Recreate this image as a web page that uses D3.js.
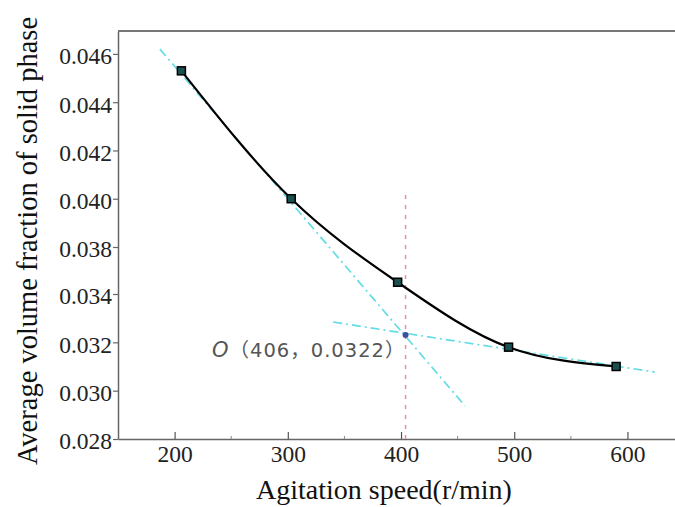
<!DOCTYPE html>
<html>
<head>
<meta charset="utf-8">
<script src="https://cdn.jsdelivr.net/npm/d3@7"></script>
<style>
  html, body { margin: 0; padding: 0; background: #fff; }
  svg { display: block; }
</style>
</head>
<body>
<div id="chart"></div>
<script>
// measured points
var SPEED = [206, 303, 397, 495, 590];
var FRACTION = [0.0453, 0.0400, 0.0350, 0.0318, 0.0310];

// the two tangent lines (end points)
var TANGENT_A_X = [187, 456.5];
var TANGENT_A_Y = [0.0462, 0.02937];
var TANGENT_B_X = [340, 624];
var TANGENT_B_Y = [0.03284, 0.03077];

// intersection point and vertical marker line
var CROSS_X = 404;
var CROSS_Y = 0.0323;
var VLINE_TOP = 0.04015;
var CROSS_LABEL = ["O", "（406，0.0322）"];

var X_TICKS = [200, 300, 400, 500, 600];
var X_MINOR = [250, 350, 450, 550];
var Y_TICKS = [0.028, 0.030, 0.032, 0.034, 0.038, 0.040, 0.042, 0.044, 0.046];

function draw() {
    var width = 675, height = 507;
    var pLeft = 118, pRight = 675, pTop = 31, pBottom = 439;

    var svg = d3.select("#chart").append("svg")
        .attr("width", width)
        .attr("height", height);

    var x = d3.scaleLinear().domain([150, 642]).range([pLeft, pRight]);
    // the original y axis skips 0.036, so the scale is piecewise
    var y = d3.scaleLinear()
        .domain([0.028, 0.034, 0.038, 0.04695])
        .range([pBottom, 294, 247, pTop]);

    // frame: top line
    svg.append("line").attr("x1", pLeft).attr("x2", pRight).attr("y1", pTop).attr("y2", pTop)
        .style("stroke", "#777").style("stroke-width", 2);

    // y axis
    var yAxis = svg.append("g")
        .attr("transform", "translate(" + pLeft + ",0)")
        .call(d3.axisLeft(y).tickValues(Y_TICKS).tickFormat(d3.format(".3f")).tickSize(5).tickPadding(1).tickSizeOuter(0));
    yAxis.select(".domain").style("stroke", "#666").style("stroke-width", 1.5);
    yAxis.selectAll(".tick line").style("stroke", "#666").style("stroke-width", 1.2);
    yAxis.selectAll("text")
        .style("font-family", "Liberation Serif, Times New Roman, serif")
        .style("font-size", "23.5px")
        .style("fill", "#222")
        .attr("dy", "0.42em");

    // x axis, ticks pointing inward
    var xAxis = svg.append("g")
        .attr("transform", "translate(0," + pBottom + ")")
        .call(d3.axisBottom(x).tickValues(X_TICKS).tickSize(-7).tickPadding(0).tickSizeOuter(0));
    xAxis.select(".domain").style("stroke", "#666").style("stroke-width", 1.5);
    xAxis.selectAll(".tick line").style("stroke", "#555").style("stroke-width", 1.2);
    xAxis.selectAll("text")
        .attr("y", 23)
        .attr("dy", 0)
        .style("font-family", "Liberation Serif, Times New Roman, serif")
        .style("font-size", "23.5px")
        .style("fill", "#222");

    svg.append("g").selectAll("line")
        .data(X_MINOR)
        .enter()
        .append("line")
        .attr("x1", function(d) { return x(d); })
        .attr("x2", function(d) { return x(d); })
        .attr("y1", pBottom)
        .attr("y2", pBottom - 3)
        .style("stroke", "#888")
        .style("stroke-width", 1);

    // vertical red line
    svg.append("line")
        .attr("x1", x(CROSS_X)).attr("x2", x(CROSS_X))
        .attr("y1", y(VLINE_TOP)).attr("y2", y(0.028))
        .style("stroke", "#ea8f98")
        .style("stroke-width", 1.5)
        .style("stroke-dasharray", "4,6");

    // tangent lines
    var line = d3.line()
        .x(function(d) { return x(d[0]); })
        .y(function(d) { return y(d[1]); });

    [[TANGENT_A_X, TANGENT_A_Y], [TANGENT_B_X, TANGENT_B_Y]].forEach(function(t) {
        svg.append("path")
            .datum(d3.zip(t[0], t[1]))
            .attr("d", line)
            .style("fill", "none")
            .style("stroke", "#62dde4")
            .style("stroke-width", 1.7)
            .style("stroke-dasharray", "9,4,2,4");
    });

    // fitted curve
    var points = d3.zip(SPEED, FRACTION);
    var curve = d3.line()
        .x(function(d) { return x(d[0]); })
        .y(function(d) { return y(d[1]); })
        .curve(d3.curveMonotoneX);
    svg.append("path")
        .datum(points)
        .attr("d", curve)
        .style("fill", "none")
        .style("stroke", "#000")
        .style("stroke-width", 2.2);

    // markers
    svg.append("g").selectAll("rect")
        .data(points)
        .enter()
        .append("rect")
        .attr("x", function(d) { return x(d[0]) - 4; })
        .attr("y", function(d) { return y(d[1]) - 4; })
        .attr("width", 8)
        .attr("height", 8)
        .style("fill", "#1b5050")
        .style("stroke", "#000")
        .style("stroke-width", 1.5);

    // intersection
    svg.append("circle")
        .attr("cx", x(CROSS_X))
        .attr("cy", y(CROSS_Y))
        .attr("r", 3)
        .style("fill", "#3d4fa0");

    var lbl = svg.append("text")
        .attr("x", 212)
        .attr("y", 357)
        .style("font-family", "DejaVu Sans, Noto Sans CJK SC, sans-serif")
        .style("font-size", "19.5px")
        .style("fill", "#555")
        .style("letter-spacing", "1px");
    lbl.append("tspan").text(CROSS_LABEL[0]).style("font-style", "italic").style("font-size", "21px");
    lbl.append("tspan").text(CROSS_LABEL[1]);

    // axis titles
    svg.append("text")
        .attr("x", (253 + 515) / 2)
        .attr("y", 499)
        .attr("text-anchor", "middle")
        .style("font-family", "Liberation Serif, Times New Roman, serif")
        .style("font-size", "28px")
        .style("fill", "#111")
        .text("Agitation speed(r/min)");

    svg.append("text")
        .attr("transform", "translate(37,241)rotate(-90)")
        .attr("text-anchor", "middle")
        .style("font-family", "Liberation Serif, Times New Roman, serif")
        .style("font-size", "28.5px")
        .style("fill", "#111")
        .text("Average volume fraction of solid phase");
}

draw();
</script>
</body>
</html>
